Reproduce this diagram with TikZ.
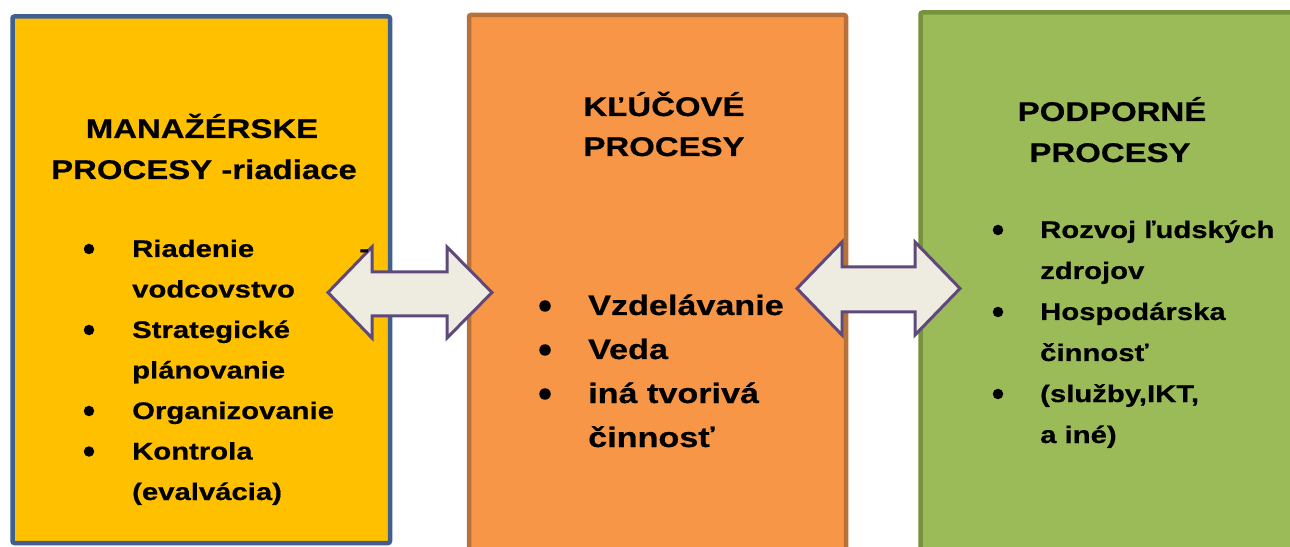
\documentclass[tikz,border=0pt]{standalone}
\usepackage{fontspec}
\setmainfont{Liberation Sans}[FakeStretch=1.22, BoldFeatures={FakeBold=0.6}]
\definecolor{yfill}{HTML}{FFC000}
\definecolor{ydraw}{HTML}{3F5F8F}
\definecolor{ofill}{HTML}{F79646}
\definecolor{odraw}{HTML}{B7713A}
\definecolor{gfill}{HTML}{9BBB59}
\definecolor{gdraw}{HTML}{76923C}
\definecolor{afill}{HTML}{EEECE1}
\definecolor{adraw}{HTML}{5F497A}
\begin{document}
\begin{tikzpicture}[x=1bp,y=-1bp,
  procbox/.style={line width=4.5bp, rounded corners=2bp},
  dblarrow/.style={draw=adraw, fill=afill, line width=3bp, line join=miter},
  title/.style={anchor=base, inner sep=0, font=\fontsize{27bp}{32bp}\selectfont\bfseries},
  item/.style={anchor=base west, inner sep=0, font=\fontsize{24bp}{29bp}\selectfont\bfseries},
  bigitem/.style={anchor=base west, inner sep=0, font=\fontsize{28bp}{33bp}\selectfont\bfseries},
  dot/.style={circle, fill=black, inner sep=0, minimum size=10.5bp},
  bigdot/.style={circle, fill=black, inner sep=0, minimum size=11.5bp}]
\useasboundingbox (0,0) rectangle (1290,547);
\clip (0,0) rectangle (1290,547);
% boxes
\draw[procbox, draw=ydraw, fill=yfill] (12.5,16.5) rectangle (390,543);
\draw[procbox, draw=odraw, fill=ofill] (469,15) rectangle (846,560);
\draw[procbox, draw=gdraw, fill=gfill] (920.5,12.5) rectangle (1310,560);
% double arrows
\draw[dblarrow] (328,292.5) -- (372,247) -- (372,272) -- (447,272) -- (447,247)
  -- (492,292.5) -- (447,338) -- (447,316) -- (372,316) -- (372,338) -- cycle;
\draw[dblarrow] (797,288.5) -- (842,242) -- (842,267) -- (915,267) -- (915,242)
  -- (960,288.5) -- (915,335) -- (915,312) -- (842,312) -- (842,335) -- cycle;
% left box texts
\node[title] (t1a) at (202,138) {MANAŽÉRSKE};
\node[title] (t1b) at (204,179) {PROCESY -riadiace};
\node[dot] (d1a) at (89,249) {};
\node[item] (i1a) at (132,257) {Riadenie};
\node[item] (i1dash) at (359,257) {-};
\node[item] (i1b) at (132,297.5) {vodcovstvo};
\node[dot] (d1b) at (89,330) {};
\node[item] (i1c) at (132,338) {Strategické};
\node[item] (i1d) at (132,378.5) {plánovanie};
\node[dot] (d1c) at (89,411) {};
\node[item] (i1e) at (132,419) {Organizovanie};
\node[dot] (d1d) at (89,451.5) {};
\node[item] (i1f) at (132,459.5) {Kontrola};
\node[item] (i1g) at (132,500) {(evalvácia)};
% middle box texts
\node[title] (t2a) at (664,116) {KĽÚČOVÉ};
\node[title] (t2b) at (664,156) {PROCESY};
\node[bigdot] (d2a) at (545,306) {};
\node[bigitem] (i2a) at (588,315) {Vzdelávanie};
\node[bigdot] (d2b) at (545,350) {};
\node[bigitem] (i2b) at (588,359) {Veda};
\node[bigdot] (d2c) at (545,394) {};
\node[bigitem] (i2c) at (588,403) {iná tvorivá};
\node[bigitem] (i2d) at (588,447) {činnosť};
% right box texts
\node[title] (t3a) at (1112,121) {PODPORNÉ};
\node[title] (t3b) at (1110,162) {PROCESY};
\node[dot] (d3a) at (998,230) {};
\node[item] (i3a) at (1040,238) {Rozvoj ľudských};
\node[item] (i3b) at (1040,279) {zdrojov};
\node[dot] (d3b) at (998,312) {};
\node[item] (i3c) at (1040,320) {Hospodárska};
\node[item] (i3d) at (1040,361) {činnosť};
\node[dot] (d3c) at (998,394) {};
\node[item] (i3e) at (1040,402) {(služby,IKT,};
\node[item] (i3f) at (1040,443) {a iné)};
\end{tikzpicture}
\end{document}
